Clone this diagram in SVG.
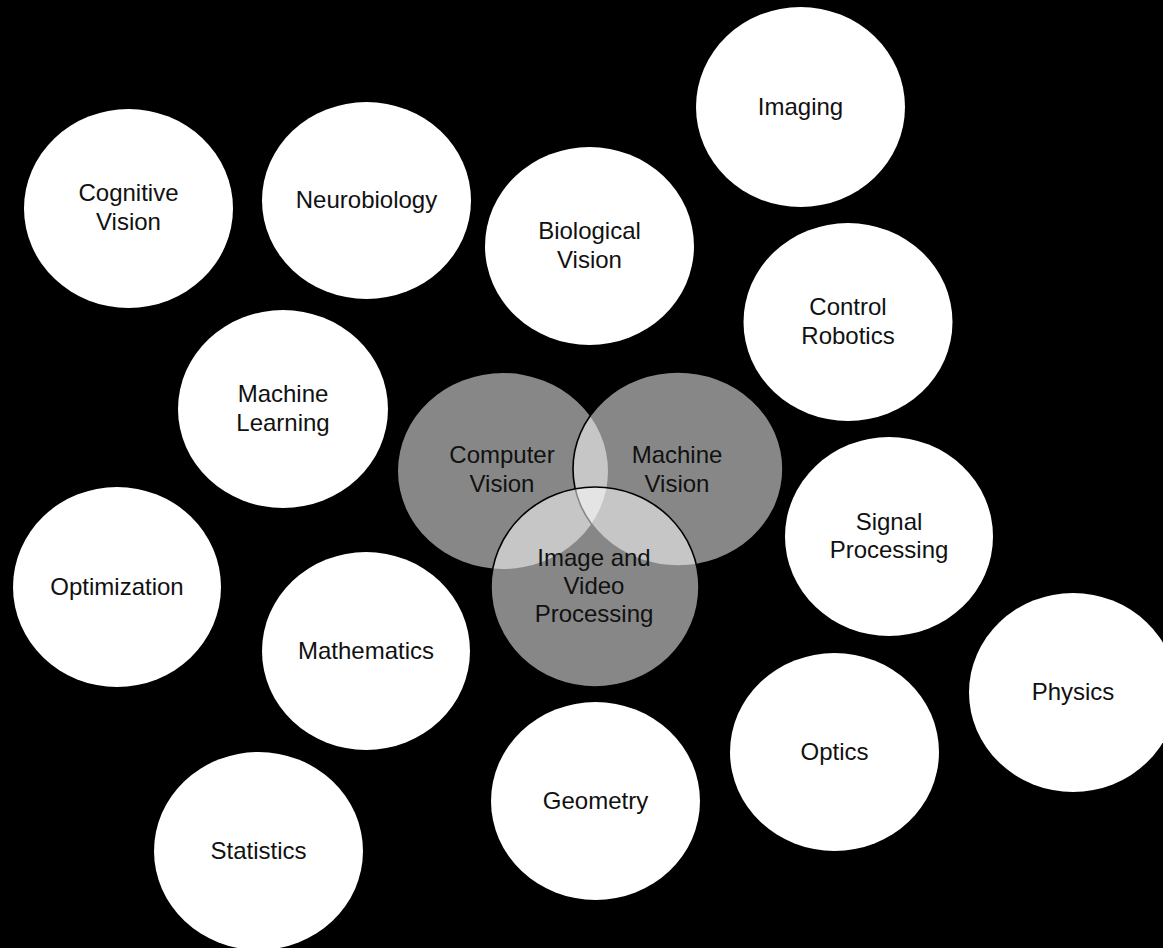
<svg xmlns="http://www.w3.org/2000/svg" width="1163" height="948" viewBox="0 0 1163 948">
  <style>
    .node { fill: #ffffff; stroke: none; }
    .venn { fill: #ffffff; fill-opacity: 0.53; }
    .edge { stroke: #000000; stroke-width: 1.6; }
    text { font-family: "Liberation Sans", Arial, sans-serif; font-size: 24px; fill: #111111; text-anchor: middle; }
  </style>
  <rect x="0" y="0" width="1163" height="948" fill="#000000"/>

  <g id="imaging"><ellipse class="node" cx="800.5" cy="107" rx="104.5" ry="100"/><text x="800.5" y="115">Imaging</text></g>
  <g id="cognitive-vision"><ellipse class="node" cx="128.5" cy="208.5" rx="104.5" ry="99.5"/><text x="128.5" y="201">Cognitive</text><text x="128.5" y="229.5">Vision</text></g>
  <g id="neurobiology"><ellipse class="node" cx="366.5" cy="200.5" rx="104.5" ry="98.5"/><text x="366.5" y="208">Neurobiology</text></g>
  <g id="biological-vision"><ellipse class="node" cx="589.5" cy="246" rx="104.5" ry="99"/><text x="589.5" y="239">Biological</text><text x="589.5" y="267.5">Vision</text></g>
  <g id="control-robotics"><ellipse class="node" cx="848" cy="322" rx="104.5" ry="99"/><text x="848" y="315">Control</text><text x="848" y="343.5">Robotics</text></g>
  <g id="machine-learning"><ellipse class="node" cx="283" cy="409" rx="105" ry="99"/><text x="283" y="402">Machine</text><text x="283" y="430.5">Learning</text></g>
  <g id="signal-processing"><ellipse class="node" cx="889" cy="536.5" rx="104" ry="99.5"/><text x="889" y="529.5">Signal</text><text x="889" y="558">Processing</text></g>
  <g id="optimization"><ellipse class="node" cx="117" cy="587" rx="104" ry="100"/><text x="117" y="595">Optimization</text></g>
  <g id="mathematics"><ellipse class="node" cx="366" cy="651" rx="104" ry="99"/><text x="366" y="658.5">Mathematics</text></g>
  <g id="physics"><ellipse class="node" cx="1073" cy="692.5" rx="104" ry="99.5"/><text x="1073" y="700">Physics</text></g>
  <g id="optics"><ellipse class="node" cx="834.5" cy="752" rx="104.5" ry="99"/><text x="834.5" y="759.5">Optics</text></g>
  <g id="geometry"><ellipse class="node" cx="595.5" cy="801" rx="104.5" ry="99"/><text x="595.5" y="808.5">Geometry</text></g>
  <g id="statistics"><ellipse class="node" cx="258.5" cy="851" rx="104.5" ry="99"/><text x="258.5" y="858.5">Statistics</text></g>

  <g id="venn">
    <g id="computer-vision"><ellipse class="venn" cx="503" cy="471" rx="105" ry="98"/></g>
    <g id="machine-vision"><ellipse class="venn edge" cx="678" cy="469" rx="105" ry="97"/></g>
    <g id="image-video-processing"><ellipse class="venn edge" cx="595" cy="587" rx="104" ry="100"/></g>
    <text x="502" y="463">Computer</text><text x="502" y="491.5">Vision</text>
    <text x="677" y="463">Machine</text><text x="677" y="491.5">Vision</text>
    <text x="594" y="566">Image and</text><text x="594" y="594">Video</text><text x="594" y="622">Processing</text>
  </g>

  <g id="connectors"></g>
</svg>
